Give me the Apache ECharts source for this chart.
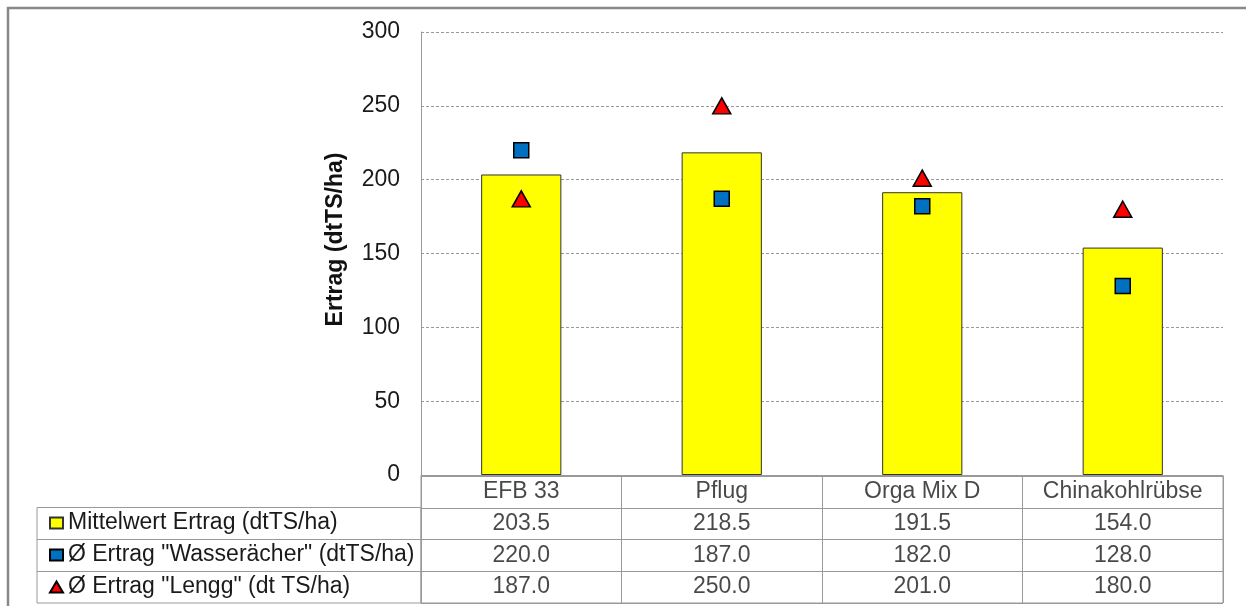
<!DOCTYPE html>
<html>
<head>
<meta charset="utf-8">
<script src="https://cdn.jsdelivr.net/npm/echarts@6/dist/echarts.min.js"></script>
<style>
html,body{margin:0;padding:0;background:#fff;}
#c{width:1246px;height:606px;}
</style>
</head>
<body>
<div id="c"></div>
<script>
const categories = ['EFB 33', 'Pflug', 'Orga Mix D', 'Chinakohlrübse'];
const seriesNames = ['Mittelwert Ertrag (dtTS/ha)', 'Ø Ertrag "Wasserächer" (dtTS/ha)', 'Ø Ertrag "Lengg" (dt TS/ha)'];
const mittelwert = [203.5, 218.5, 191.5, 154.0];
const wasseraecher = [220.0, 187.0, 182.0, 128.0];
const lengg = [187.0, 250.0, 201.0, 180.0];
const yTicks = [0, 50, 100, 150, 200, 250, 300];
const rows = ['header', 'r1', 'r2', 'r3'];

const FONT = 'Liberation Sans, Arial, sans-serif';
const tableRows = [mittelwert, wasseraecher, lengg];
const tableData = [];
categories.forEach((c, i) => tableData.push([i, 0, c]));
tableRows.forEach((arr, r) => arr.forEach((v, i) => tableData.push([i, r + 1, v.toFixed(1)])));

const chart = echarts.init(document.getElementById('c'), null, {renderer: 'canvas'});
chart.setOption({
  animation: false,
  backgroundColor: '#fff',
  textStyle: {fontFamily: FONT},
  grid: [
    {left: 421, right: 23, top: 32, bottom: 131, show: false},
    {left: 421, right: 23, top: 476, bottom: 3, show: true, borderColor: '#999', borderWidth: 1, backgroundColor: 'transparent'}
  ],
  xAxis: [
    {type: 'category', data: categories, gridIndex: 0,
     axisLine: {show: true, lineStyle: {color: '#999'}}, axisTick: {show: false}, axisLabel: {show: false}},
    {type: 'category', data: categories, gridIndex: 1,
     axisLine: {show: false}, axisTick: {show: false}, axisLabel: {show: false},
     splitLine: {show: true, lineStyle: {color: '#999', width: 1}}}
  ],
  yAxis: [
    {type: 'value', gridIndex: 0, min: yTicks[0], max: yTicks[yTicks.length - 1], interval: 50,
     name: 'Ertrag (dtTS/ha)', nameLocation: 'middle', nameGap: 74,
     nameTextStyle: {fontSize: 23, fontWeight: 'bold', color: '#111', fontFamily: FONT, padding: [0, 0, 0, 28]},
     axisLine: {show: true, lineStyle: {color: '#999'}}, axisTick: {show: false},
     axisLabel: {fontSize: 23, color: '#1a1a1a', margin: 21, fontFamily: FONT},
     splitLine: {show: true, lineStyle: {color: '#999', type: [3, 2], width: 1}}},
    {type: 'category', data: rows, gridIndex: 1, inverse: true,
     axisLine: {show: false}, axisTick: {show: false}, axisLabel: {show: false},
     splitLine: {show: true, lineStyle: {color: '#999', width: 1}}}
  ],
  legend: {
    orient: 'vertical', left: 49, top: 511, padding: 0, itemGap: 8,
    itemWidth: 13, itemHeight: 11, selectedMode: false,
    textStyle: {fontSize: 23, color: '#1a1a1a', lineHeight: 24, fontFamily: FONT},
    data: [
      {name: seriesNames[0], icon: 'rect'},
      {name: seriesNames[1], icon: 'rect'},
      {name: seriesNames[2], icon: 'triangle'}
    ]
  },
  graphic: [
    {type: 'rect', shape: {x: 8, y: 8, width: 1400, height: 800}, style: {fill: 'none', stroke: '#888', lineWidth: 2.5}, silent: true},
    {type: 'rect', shape: {x: 37, y: 507.5, width: 384, height: 95.5}, style: {fill: 'none', stroke: '#999', lineWidth: 1}, silent: true},
    {type: 'line', shape: {x1: 37, y1: 539.5, x2: 421, y2: 539.5}, style: {stroke: '#999', lineWidth: 1}, silent: true},
    {type: 'line', shape: {x1: 37, y1: 571.5, x2: 421, y2: 571.5}, style: {stroke: '#999', lineWidth: 1}, silent: true}
  ],
  series: [
    {name: seriesNames[0], type: 'bar', data: mittelwert, barWidth: '40%', xAxisIndex: 0, yAxisIndex: 0,
     itemStyle: {color: '#FFFF00', borderColor: '#333', borderWidth: 1}},
    {name: seriesNames[1], type: 'scatter', data: wasseraecher, symbol: 'rect', symbolSize: 15, xAxisIndex: 0, yAxisIndex: 0,
     itemStyle: {color: '#0070C0', borderColor: '#000', borderWidth: 1.5, opacity: 1}, z: 5},
    {name: seriesNames[2], type: 'scatter', data: lengg, symbol: 'triangle', symbolSize: [18, 16], xAxisIndex: 0, yAxisIndex: 0,
     itemStyle: {color: '#FF0000', borderColor: '#000', borderWidth: 1.5, opacity: 1}, z: 5},
    {name: 'table', type: 'scatter', xAxisIndex: 1, yAxisIndex: 1, data: tableData,
     symbol: 'circle', symbolSize: 1, itemStyle: {color: 'rgba(0,0,0,0)'}, silent: true,
     label: {show: true, position: 'inside', fontSize: 23, color: '#1a1a1a', fontFamily: FONT,
             formatter: p => p.data[2]}}
  ]
});
</script>
</body>
</html>
